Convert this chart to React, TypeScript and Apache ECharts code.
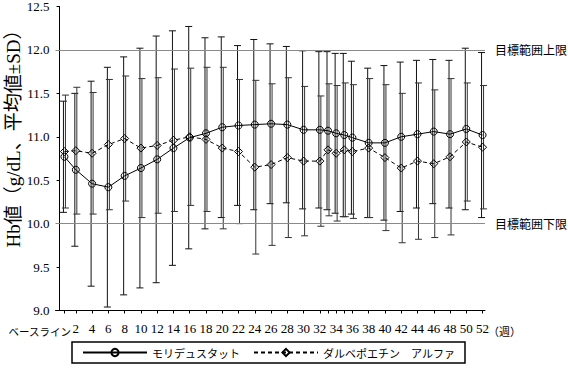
import React, { useEffect, useRef } from "react";
import * as echarts from "echarts";

// time points (weeks); baseline is drawn just right of the axis origin
const TIMEPOINTS = [0.6, 2, 4, 6, 8, 10, 12, 14, 16, 18, 20, 22, 24, 26, 28, 30, 32, 33, 34, 35, 36, 38, 40, 42, 44, 46, 48, 50, 52];
const LABELLED = [2, 4, 6, 8, 10, 12, 14, 16, 18, 20, 22, 24, 26, 28, 30, 32, 34, 36, 38, 40, 42, 44, 46, 48, 50, 52];
const BASELINE_LABEL = "ベースライン";

const MORI_NAME = "モリデュスタット";
const MORI_MEAN = [10.77, 10.62, 10.46, 10.42, 10.55, 10.64, 10.74, 10.87, 10.99, 11.04, 11.11, 11.13, 11.14, 11.15, 11.14, 11.08, 11.08, 11.07, 11.04, 11.02, 10.99, 10.93, 10.93, 11.0, 11.03, 11.06, 11.03, 11.09, 11.02];
const MORI_SD = [0.64, 0.88, 1.18, 1.38, 1.37, 1.38, 1.42, 1.35, 1.28, 1.1, 1.04, 0.92, 0.98, 0.92, 0.9, 0.91, 0.9, 0.91, 0.92, 0.94, 0.88, 0.86, 0.89, 0.86, 0.85, 0.83, 0.85, 0.93, 0.95];

const DARB_NAME = "ダルベポエチン　アルファ";
const DARB_MEAN = [10.83, 10.84, 10.81, 10.91, 10.98, 10.87, 10.9, 10.96, 11.0, 10.97, 10.87, 10.83, 10.65, 10.68, 10.76, 10.72, 10.72, 10.85, 10.81, 10.85, 10.83, 10.87, 10.76, 10.64, 10.72, 10.69, 10.77, 10.94, 10.88];
const DARB_SD = [0.65, 0.73, 0.7, 0.75, 0.72, 0.8, 0.78, 0.82, 0.79, 0.83, 0.93, 0.83, 1.0, 0.93, 0.92, 0.86, 0.75, 0.76, 0.78, 0.77, 0.77, 0.8, 0.84, 0.86, 0.9, 0.85, 0.9, 0.68, 0.71];

const TARGET_UPPER = 12.0;
const TARGET_LOWER = 10.0;
const UPPER_LABEL = "目標範囲上限";
const LOWER_LABEL = "目標範囲下限";
const Y_TITLE = "Hb値（g/dL、平均値±SD）";
const X_UNIT = "（週）";

const SERIF = "Liberation Serif, Noto Sans CJK JP, serif";
const CJK = "Noto Sans CJK JP, sans-serif";
const NUM_RICH = { n: { fontFamily: "Liberation Serif", fontSize: 13, color: "#000" } };

function errorBars(id: string, means: number[], sds: number[], dodge: number, color: string) {
  return {
    type: "custom",
    id,
    silent: true,
    z: 1,
    encode: { x: 0, y: [1, 2] },
    data: TIMEPOINTS.map((w, i) => [w, means[i] - sds[i], means[i] + sds[i]]),
    renderItem: (_params: any, api: any) => {
      const x = api.value(0);
      const lo = api.coord([x, api.value(1)]);
      const hi = api.coord([x, api.value(2)]);
      const px = lo[0] + dodge;
      const cap = 3.5;
      const style = { stroke: color, lineWidth: 1 };
      return {
        type: "group",
        children: [
          { type: "line", shape: { x1: px, y1: hi[1], x2: px, y2: lo[1] }, style },
          { type: "line", shape: { x1: px - cap, y1: hi[1], x2: px + cap, y2: hi[1] }, style },
          { type: "line", shape: { x1: px - cap, y1: lo[1], x2: px + cap, y2: lo[1] }, style },
        ],
      };
    },
  };
}

export default function App() {
  const ref = useRef<HTMLDivElement>(null);
  useEffect(() => {
    document.body.style.margin = "0";
    const chart = echarts.init(ref.current!, null, { renderer: "svg" });
    const option: any = {
      animation: false,
      backgroundColor: "#fff",
      textStyle: { fontFamily: SERIF },
      grid: { left: 55.5, right: 83, top: 4.25, bottom: 59.5 },
      xAxis: {
        type: "value",
        min: -0.5,
        max: 52.3,
        axisLine: { lineStyle: { color: "#000", width: 1 } },
        axisTick: { show: true, length: 3, inside: false, customValues: TIMEPOINTS, lineStyle: { color: "#000" } },
        splitLine: { show: false },
        axisLabel: {
          customValues: LABELLED,
          margin: 11,
          fontFamily: "Liberation Serif",
          fontSize: 13,
          color: "#000",
          formatter: (v: number) => `{n|${v}}`,
          rich: NUM_RICH,
        },
      },
      yAxis: {
        type: "value",
        min: 9,
        max: 12.5,
        interval: 0.5,
        axisLine: { show: true, lineStyle: { color: "#000", width: 1 } },
        axisTick: { show: true, length: 3, lineStyle: { color: "#000" } },
        splitLine: { show: false },
        axisLabel: {
          fontFamily: "Liberation Serif",
          fontSize: 13,
          color: "#000",
          margin: 6,
          formatter: (v: number) => `{n|${v.toFixed(1)}}`,
          rich: NUM_RICH,
        },
      },
      legend: {
        data: [MORI_NAME, DARB_NAME],
        left: 72,
        top: 342,
        padding: [5, 10, 5, 10],
        itemGap: 13,
        itemWidth: 64,
        itemHeight: 9,
        borderColor: "#000",
        borderWidth: 1.5,
        textStyle: { fontFamily: CJK, fontSize: 11, color: "#000" },
      },
      graphic: [
        {
          type: "text",
          x: 13,
          y: 134,
          rotation: Math.PI / 2,
          style: {
            text: Y_TITLE,
            fontFamily: SERIF,
            fontSize: 19,
            fill: "#000",
            align: "center",
            verticalAlign: "middle",
          },
        },
        {
          type: "text",
          x: 71,
          y: 331,
          style: {
            text: BASELINE_LABEL,
            fontFamily: CJK,
            fontSize: 10.5,
            fill: "#000",
            align: "right",
            verticalAlign: "middle",
          },
        },
        {
          type: "text",
          x: 488,
          y: 331,
          style: {
            text: X_UNIT,
            fontFamily: CJK,
            fontSize: 11,
            fill: "#000",
            align: "left",
            verticalAlign: "middle",
          },
        },
      ],
      series: [
        errorBars("moriErr", MORI_MEAN, MORI_SD, -1, "#111"),
        errorBars("darbErr", DARB_MEAN, DARB_SD, 1, "#333"),
        {
          type: "line",
          name: MORI_NAME,
          z: 3,
          data: TIMEPOINTS.map((w, i) => [w, MORI_MEAN[i]]),
          symbol: "circle",
          symbolSize: 7,
          showAllSymbol: true,
          lineStyle: { color: "#000", width: 1, type: "solid" },
          itemStyle: { color: "rgba(255,255,255,0)", borderColor: "#000", borderWidth: 1 },
          markLine: {
            silent: true,
            symbol: "none",
            lineStyle: { color: "#8a8a8a", width: 1, type: "solid" },
            label: { position: "end", distance: 10, fontFamily: CJK, fontSize: 12, color: "#000" },
            data: [
              { yAxis: TARGET_UPPER, label: { formatter: UPPER_LABEL } },
              { yAxis: TARGET_LOWER, label: { formatter: LOWER_LABEL } },
            ],
          },
        },
        {
          type: "line",
          name: DARB_NAME,
          z: 3,
          data: TIMEPOINTS.map((w, i) => [w, DARB_MEAN[i]]),
          symbol: "diamond",
          symbolSize: 8,
          showAllSymbol: true,
          lineStyle: { color: "#000", width: 1, type: [4, 3] },
          itemStyle: { color: "rgba(255,255,255,0)", borderColor: "#000", borderWidth: 1 },
        },
      ],
    };
    chart.setOption(option);
    return () => chart.dispose();
  }, []);
  return <div ref={ref} style={{ width: 568, height: 370 }} />;
}
